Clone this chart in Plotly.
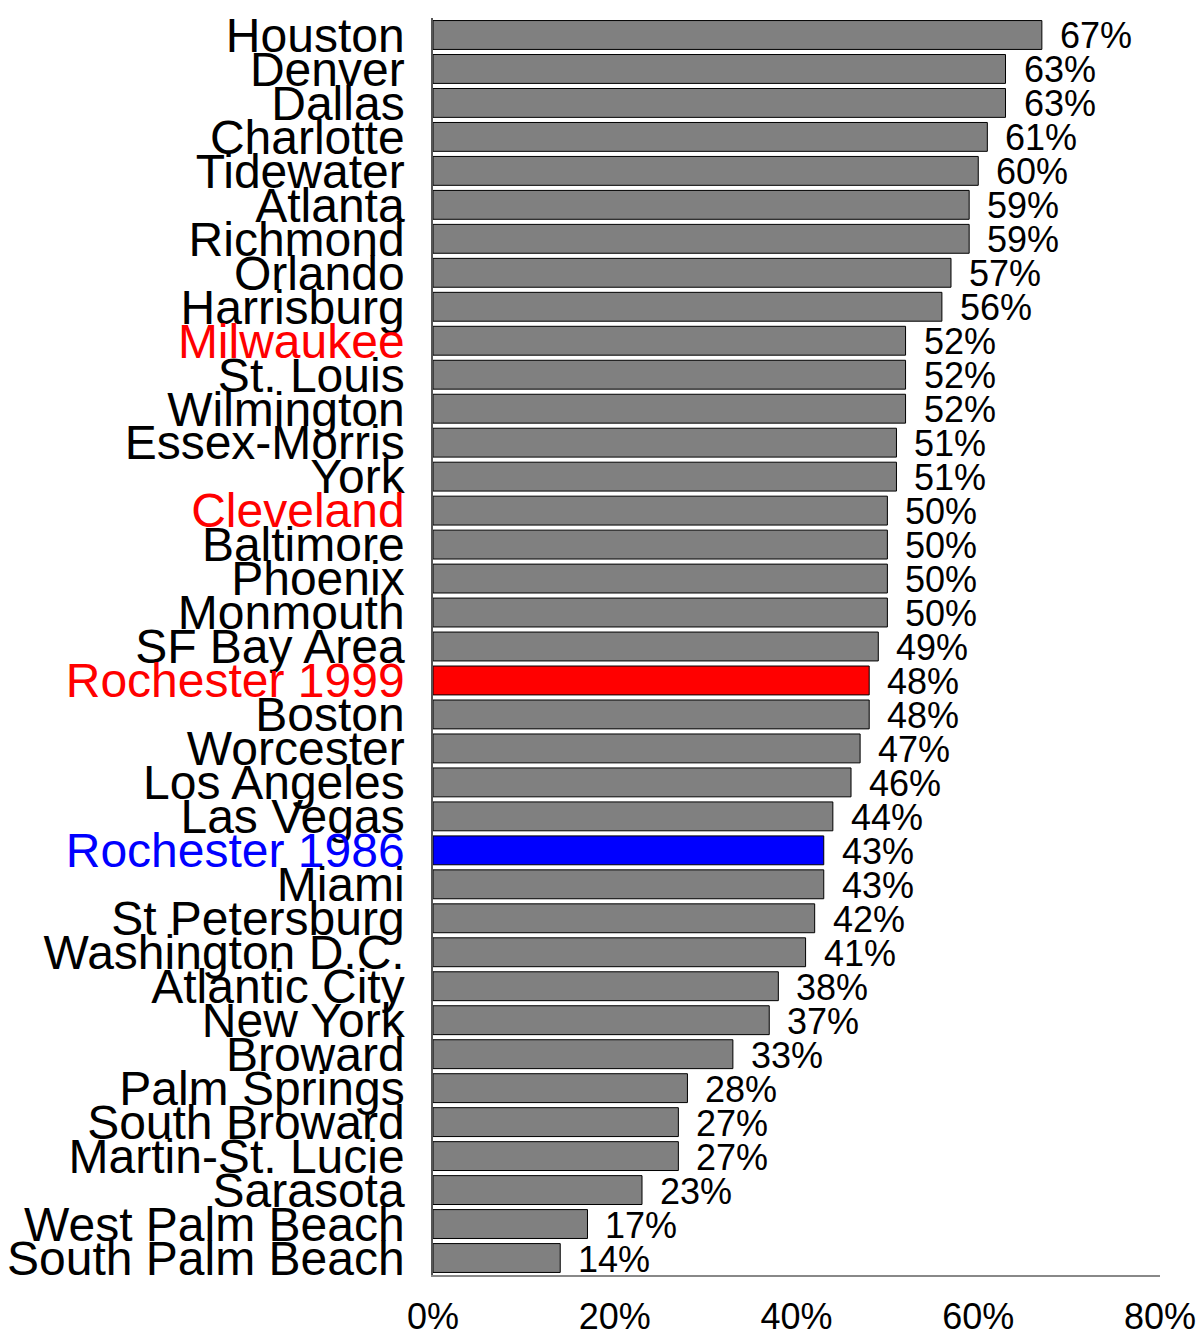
import plotly.graph_objects as go

cities = [
    "Houston", "Denver", "Dallas", "Charlotte", "Tidewater", "Atlanta", "Richmond",
    "Orlando", "Harrisburg", "Milwaukee", "St. Louis", "Wilmington", "Essex-Morris",
    "York", "Cleveland", "Baltimore", "Phoenix", "Monmouth", "SF Bay Area",
    "Rochester 1999", "Boston", "Worcester", "Los Angeles", "Las Vegas",
    "Rochester 1986", "Miami", "St Petersburg", "Washington D.C.", "Atlantic City",
    "New York", "Broward", "Palm Springs", "South Broward", "Martin-St. Lucie",
    "Sarasota", "West Palm Beach", "South Palm Beach",
]
pct = [
    67, 63, 63, 61, 60, 59, 59, 57, 56, 52, 52, 52, 51, 51, 50, 50, 50, 50, 49,
    48, 48, 47, 46, 44, 43, 43, 42, 41, 38, 37, 33, 28, 27, 27, 23, 17, 14,
]
red_labels = ["Milwaukee", "Cleveland", "Rochester 1999"]
blue_labels = ["Rochester 1986"]
x_ticks = [0, 20, 40, 60, 80]

FONT = "Liberation Sans, Arial, sans-serif"


def label_color(name):
    if name in red_labels:
        return "red"
    if name in blue_labels:
        return "blue"
    return "black"


bar_colors = []
for c in cities:
    if c == "Rochester 1999":
        bar_colors.append("red")
    elif c == "Rochester 1986":
        bar_colors.append("blue")
    else:
        bar_colors.append("#808080")

ticktext = [f"<span style='color:{label_color(c)}'>{c}</span>" for c in cities]

fig = go.Figure()
fig.add_trace(go.Bar(
    x=pct,
    y=cities,
    orientation="h",
    marker=dict(color=bar_colors, line=dict(color="black", width=1)),
    hoverinfo="x+y",
))

# value labels right of each bar
for c, v in zip(cities, pct):
    fig.add_annotation(
        x=v, y=c, text=f"{v}%", showarrow=False,
        xanchor="left", xshift=16, yshift=-1,
        font=dict(family=FONT, size=36, color="black"),
    )

fig.update_layout(
    width=1202,
    height=1332,
    margin=dict(l=433, r=42, t=18, b=57),
    plot_bgcolor="white",
    paper_bgcolor="white",
    bargap=0.15,
    showlegend=False,
    font=dict(family=FONT, color="black"),
)
fig.update_xaxes(
    range=[0, 80],
    tickvals=x_ticks,
    ticktext=[f"{t}%" for t in x_ticks],
    tickfont=dict(size=36),
    showgrid=False,
    zeroline=False,
    showline=True,
    linecolor="#888888",
    linewidth=1.5,
    ticks="",
    ticklabelstandoff=9,
    automargin=False,
)
fig.update_yaxes(
    range=[len(cities) - 0.5, -0.5],
    tickvals=cities,
    ticktext=ticktext,
    tickfont=dict(size=48),
    showgrid=False,
    showline=True,
    linecolor="#555555",
    linewidth=1.5,
    ticks="",
    ticklabelstandoff=17,
    automargin=False,
)

# drop the default page margin so the figure sits at the window's corner
fig.write_html(
    "out.html",
    config={"displayModeBar": False},
    post_script="document.body.style.margin='0';",
)
